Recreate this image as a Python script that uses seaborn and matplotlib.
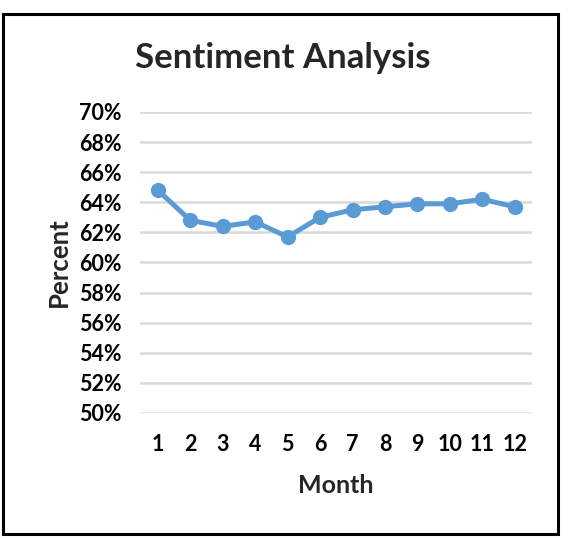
import seaborn as sns
import pandas as pd
from matplotlib import pyplot as plt
from matplotlib.patches import Rectangle
from matplotlib.ticker import PercentFormatter

months = [1, 2, 3, 4, 5, 6, 7, 8, 9, 10, 11, 12]
sentiment = [0.648, 0.628, 0.624, 0.627, 0.617, 0.630, 0.635, 0.637, 0.639, 0.639, 0.642, 0.637]
yticks = [0.50, 0.52, 0.54, 0.56, 0.58, 0.60, 0.62, 0.64, 0.66, 0.68, 0.70]

df = pd.DataFrame({"Month": months, "Percent": sentiment})

sns.set_style("white")
plt.rcParams['font.family'] = ['Lato', 'DejaVu Sans']
plt.rcParams['font.weight'] = 'bold'

fig = plt.figure(figsize=(5.68, 5.41), dpi=100)
ax = fig.add_axes([0.2465, 0.2366, 0.69, 0.5564])

sns.lineplot(data=df, x="Month", y="Percent", ax=ax, color="#5B9BD5",
             linewidth=3.6, marker="o", markersize=11, markeredgewidth=0)

ax.set_xlim(0.45, 12.53)
ax.set_ylim(0.50, 0.70)
ax.set_yticks(yticks)
ax.set_xticks(months)
ax.yaxis.set_major_formatter(PercentFormatter(1.0, decimals=0))
ax.grid(axis="y", color="#D9D9D9", linewidth=1.8)
ax.set_axisbelow(True)
for s in ax.spines.values():
    s.set_visible(False)
ax.tick_params(axis="both", length=0, labelsize=15.5, colors="black")
ax.tick_params(axis="y", pad=13)
ax.tick_params(axis="x", pad=15)

ax.set_xlabel("Month", fontsize=18, fontweight="bold", labelpad=14)
ax.set_ylabel("Percent", fontsize=18.5, fontweight="bold", labelpad=6)
fig.text(0.497, 0.893, "Sentiment Analysis", ha="center", va="center",
         fontsize=25, fontweight="bold")

fig.patches.append(Rectangle((0.006, 0.013), 0.977, 0.962, transform=fig.transFigure,
                             fill=False, edgecolor="black", linewidth=2.2))

plt.savefig("out.png", dpi=100)
